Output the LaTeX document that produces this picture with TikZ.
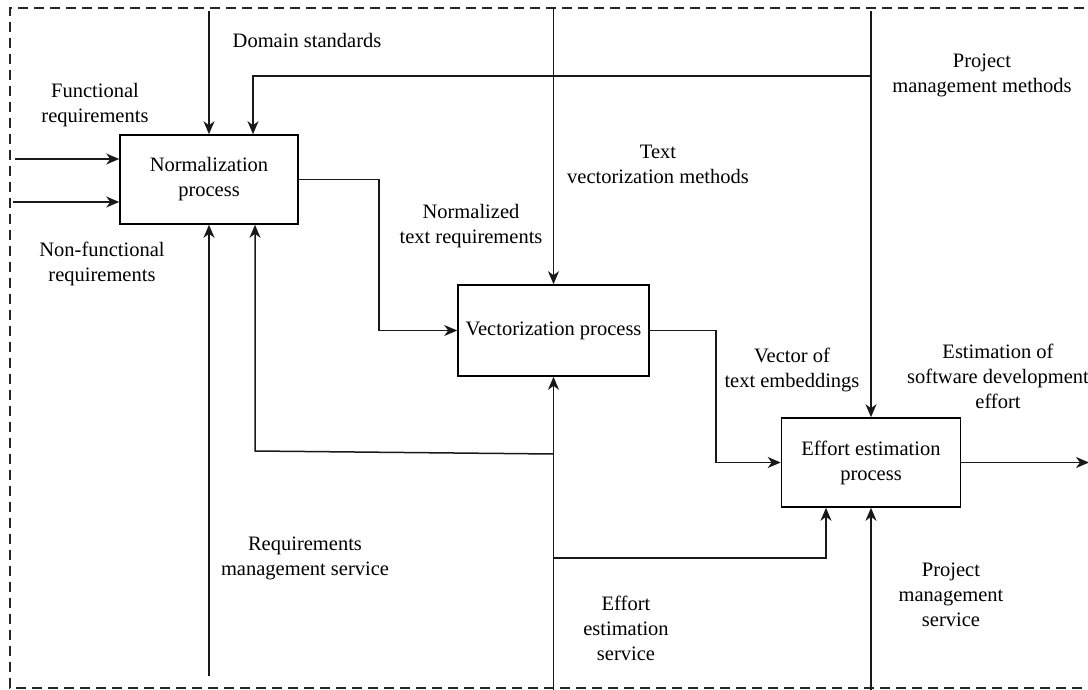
\documentclass[tikz,border=0pt]{standalone}
\usepackage{fontspec}
\setmainfont{Liberation Serif}
\usetikzlibrary{arrows.meta,calc}
\begin{document}
\begin{tikzpicture}[x=1pt,y=-1pt,
  every node/.style={font=\fontsize{20.5}{25}\selectfont, text=black},
  proc/.style={draw, line width=1.6pt, align=center, inner sep=0pt},
  lbl/.style={align=center, inner sep=0pt},
  arr/.style={draw=black!90, line width=1.5pt, -{Stealth[length=13pt,width=11pt,inset=4pt]}},
  frame/.style={draw=black!85, line width=1.2pt, dash pattern=on 10pt off 6pt}]
\useasboundingbox (0,0) rectangle (1088,690);
% frame
\draw[frame] (1100,8) -- (10,8) -- (10,688) -- (1100,688);
% process boxes
\node[proc, minimum width=178pt, minimum height=89pt] (norm) at (209,179.5) {Normalization\\process};
\node[proc, minimum width=191pt, minimum height=91pt] (vec) at (553.5,330.5) {Vectorization process};
\node[proc, minimum width=179pt, minimum height=89pt] (eff) at (871,462.5) {Effort estimation\\process};
% free ends
\coordinate (fr) at (15,159);
\coordinate (nfr) at (13,202);
\coordinate (ds) at (209,11);
\coordinate (pmm) at (871,11);
\coordinate (pmmJ) at (871,76);
\coordinate (tvm) at (553.5,8);
\coordinate (rms) at (209,676);
\coordinate (ees) at (553.5,690);
\coordinate (eesA) at (553.5,454);
\coordinate (eesB) at (553.5,558);
\coordinate (pms) at (871,690);
\coordinate (out) at (1089,462.5);
% inputs
\draw[arr] (fr) -- (fr -| norm.west);
\draw[arr] (nfr) -- (nfr -| norm.west);
% controls
\draw[arr] (ds) -- (norm.north);
\draw[arr] (pmm) -- (eff.north);
\draw[arr] (pmmJ) -- (253,76) -- (253,76 |- norm.north);
\draw[arr] (tvm) -- (vec.north);
% flows
\draw[arr] (norm.east) -- ++(80,0) |- (vec.west);
\draw[arr] (vec.east) -- ++(66,0) |- (eff.west);
\draw[arr] (eff.east) -- (out);
% mechanisms
\draw[arr] (rms) -- (norm.south);
\draw[arr] (ees) -- (vec.south);
\draw[arr] (eesA) -- (255,451) -- (255,451 |- norm.south);
\draw[arr] (eesB) -- (826,558) -- (826,558 |- eff.south);
\draw[arr] (pms) -- (eff.south);
% labels
\node[lbl] (lds) at (307,40) {Domain standards};
\node[lbl] (lfr) at (95,105) {Functional\\requirements};
\node[lbl] (lnfr) at (102,264) {Non-functional\\requirements};
\node[lbl] (lpmm) at (982,75) {Project\\management methods};
\node[lbl] (ltvm) at (658,164) {Text\\vectorization methods};
\node[lbl] (lntr) at (471,226) {Normalized\\text requirements};
\node[lbl] (lvte) at (792,370) {Vector of\\text embeddings};
\node[lbl] (lest) at (998,376) {Estimation of\\software development\\effort};
\node[lbl] (lrms) at (305,558) {Requirements\\management service};
\node[lbl] (lees) at (626,628) {Effort\\estimation\\service};
\node[lbl] (lpms) at (951,595) {Project\\management\\service};
\end{tikzpicture}
\end{document}
